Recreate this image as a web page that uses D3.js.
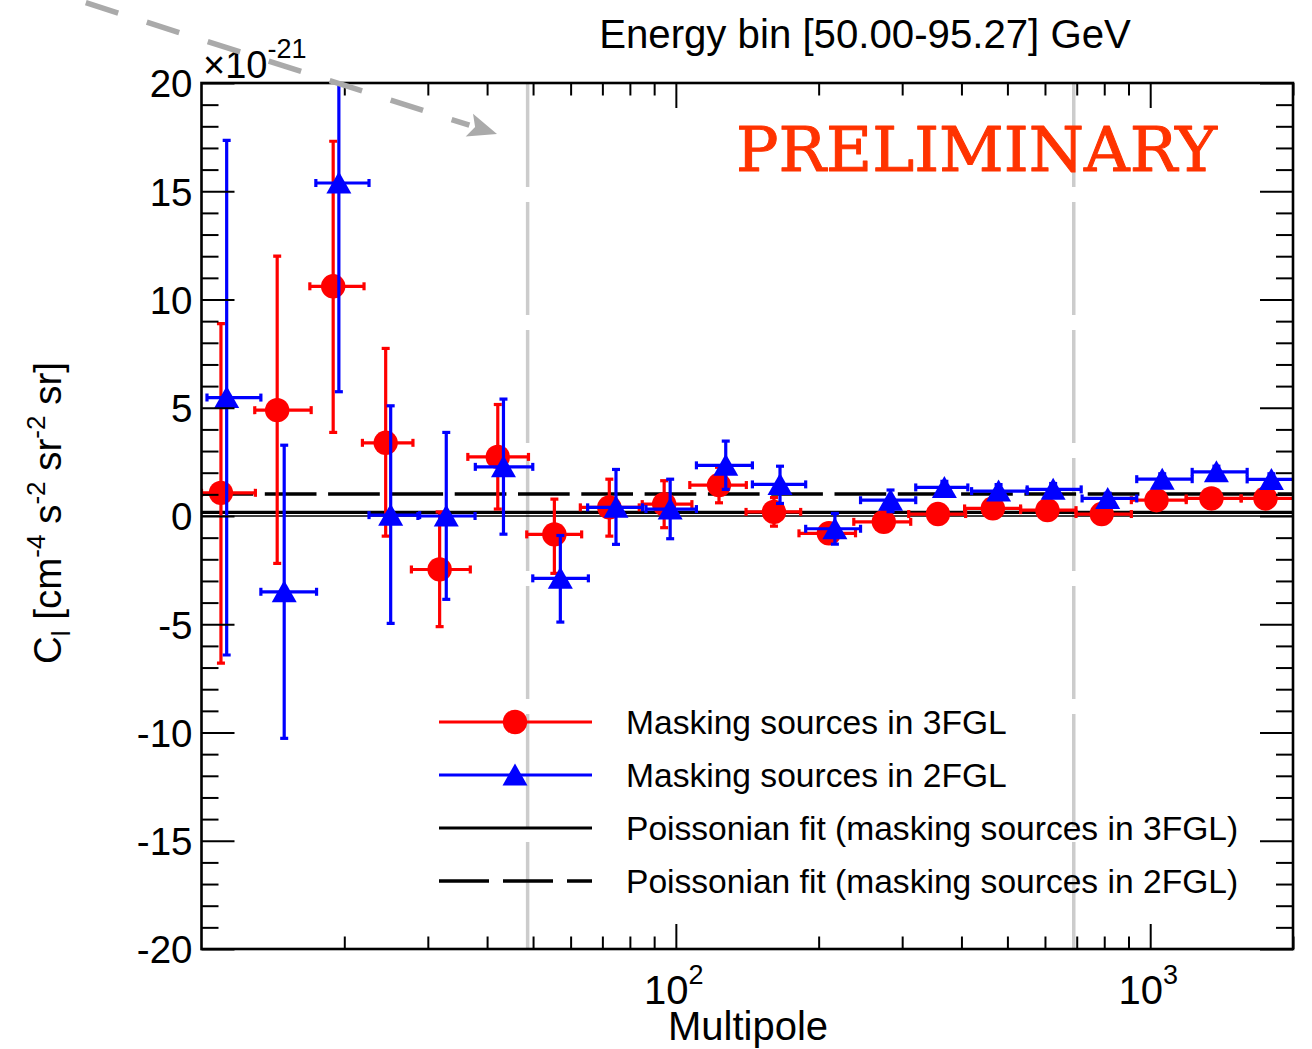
<!DOCTYPE html>
<html>
<head>
<meta charset="utf-8">
<script src="https://cdn.jsdelivr.net/npm/d3@7"></script>
<style>
  html, body { margin: 0; padding: 0; background: #fff; }
  svg { display: block; }
  text { font-family: "Liberation Sans", Arial, Helvetica, sans-serif; fill: #000; }
  text.stamp { font-family: "DejaVu Serif", "Liberation Serif", serif; font-weight: normal;
               fill: #ff3300; stroke: #ff3300; stroke-width: 1px; stroke-linejoin: round; }
</style>
</head>
<body>
<svg id="chart" width="1312" height="1049"></svg>
<script>
// Angular power spectrum, energy bin 50.00-95.27 GeV (values in units of 1e-21)

// Masking sources in 3FGL
const ell3   = [10.99, 14.44, 18.95, 24.45, 31.77, 42.13, 55.45, 72.40, 94.48, 123.3, 161.0, 210.2, 274.4, 356.9, 465.9, 607.3, 790.3, 1031, 1346, 1750];
const ellLo3 = [10.0, 12.95, 16.92, 21.84, 27.70, 36.43, 48.49, 62.9, 84.95, 107.0, 140.6, 181.8, 237.2, 309.7, 406.2, 533.0, 697.6, 912.5, 1191, 1555];
const ellHi3 = [12.99, 17.03, 22.01, 27.91, 36.87, 48.90, 63.3, 83.72, 108.1, 140.8, 183.3, 239.2, 312.7, 408.2, 533.0, 697.6, 912.5, 1191, 1555, 2030];
const cl3    = [1.07, 4.89, 10.61, 3.38, -2.47, 2.73, -0.85, 0.40, 0.55, 1.43, 0.19, -0.80, -0.27, 0.09, 0.35, 0.27, 0.09, 0.73, 0.81, 0.81];
const clLo3  = [-6.80, -2.19, 3.86, -0.93, -5.11, 0.32, -2.65, -0.93, -0.54, 0.61, -0.47, -1.25, -0.65, -0.25, 0.05, 0.00, -0.15, 0.55, 0.65, 0.65];
const clHi3  = [8.89, 12.0, 17.31, 7.74, 0.19, 5.15, 0.78, 1.70, 1.63, 2.25, 0.85, -0.35, 0.10, 0.40, 0.60, 0.50, 0.30, 0.90, 0.95, 0.95];

// Masking sources in 2FGL
const ell2   = [11.30, 14.94, 19.48, 25.05, 32.81, 43.31, 57.08, 74.78, 97.28, 127.4, 165.8, 216.4, 283.5, 368.2, 479.0, 624.3, 813.6, 1060, 1379, 1801];
const ellLo2 = [10.27, 13.34, 17.42, 22.55, 28.59, 37.78, 49.93, 65.17, 86.49, 110.5, 145.0, 187.8, 245.1, 320.4, 420.2, 550.3, 718.5, 936.7, 1226, 1601];
const ellHi2 = [13.34, 17.48, 22.55, 28.83, 37.73, 49.93, 65.4, 85.07, 110.5, 145.0, 187.8, 245.1, 320.4, 412.6, 550.3, 715.3, 936.7, 1226, 1601, 2050];
const cl2    = [5.47, -3.50, 15.38, 0.04, 0.00, 2.27, -2.88, 0.40, 0.32, 2.34, 1.46, -0.59, 0.73, 1.32, 1.15, 1.23, 0.81, 1.70, 2.04, 1.69];
const clLo2  = [-6.42, -10.27, 5.74, -4.96, -3.85, -0.84, -4.90, -1.31, -1.05, 1.23, 0.58, -1.30, 0.20, 1.00, 0.85, 0.95, 0.55, 1.45, 1.80, 1.45];
const clHi2  = [17.35, 3.27, 20.5, 5.09, 3.86, 5.40, -0.90, 2.15, 1.70, 3.46, 2.30, 0.12, 1.20, 1.60, 1.45, 1.50, 1.05, 1.95, 2.30, 1.95];

// Poissonian fits (constant C_l)
const fit3 = 0.17;
const fit2 = 1.02;

// Multipole range used in the fit
const fitRange = [48.7, 690];

const yMajorTicks = [-20, -15, -10, -5, 0, 5, 10, 15, 20];
const yMinorTicks = d3.range(-20, 21, 1).filter(v => v % 5 !== 0);
const xMajorTicks = [100, 1000];
const xMinorTicks = [20, 30, 40, 50, 60, 70, 80, 90, 200, 300, 400, 500, 600, 700, 800, 900, 2000];
const xTickLabels = [{v: 100, base: "10", exp: "2"}, {v: 1000, base: "10", exp: "3"}];

const legendItems = [
  {label: "Masking sources in 3FGL", kind: "circle"},
  {label: "Masking sources in 2FGL", kind: "triangle"},
  {label: "Poissonian fit (masking sources in 3FGL)", kind: "solid"},
  {label: "Poissonian fit (masking sources in 2FGL)", kind: "dashed"}
];

const M = {left: 201.5, right: 1293, top: 83, bottom: 949};
const RED = "#ff0000", BLUE = "#0000ff";

const svg = d3.select("#chart");
const x = d3.scaleLog().domain([10, 2000]).range([M.left, M.right]);
const y = d3.scaleLinear().domain([-20, 20]).range([M.bottom, M.top]);

svg.append("defs").append("clipPath").attr("id", "plotClip")
  .append("rect").attr("x", M.left).attr("y", M.top)
  .attr("width", M.right - M.left).attr("height", M.bottom - M.top);

const plot = svg.append("g").attr("clip-path", "url(#plotClip)");

// fit-range markers
plot.selectAll("line.range").data(fitRange).join("line")
  .attr("class", "range")
  .attr("x1", d => x(d)).attr("x2", d => x(d))
  .attr("y1", M.top).attr("y2", M.bottom)
  .attr("stroke", "#cccccc").attr("stroke-width", 3.5)
  .attr("stroke-dasharray", "113,15").attr("stroke-dashoffset", 9);

// zero line and fits
plot.append("line").attr("x1", M.left).attr("x2", M.right)
  .attr("y1", y(0)).attr("y2", y(0)).attr("stroke", "#000").attr("stroke-width", 1.5);
plot.append("line").attr("x1", M.left).attr("x2", M.right)
  .attr("y1", y(fit3)).attr("y2", y(fit3)).attr("stroke", "#000").attr("stroke-width", 3.2);
plot.append("line").attr("x1", M.left).attr("x2", M.right)
  .attr("y1", y(fit2)).attr("y2", y(fit2)).attr("stroke", "#000").attr("stroke-width", 3.5)
  .attr("stroke-dasharray", "51.7,11.6");

const TRI = "M0,-11.5L12.5,10.5L-12.5,10.5Z";

function drawSeries(ell, lo, hi, cl, clLo, clHi, color, kind) {
  const data = ell.map((e, i) => ({e, lo: lo[i], hi: hi[i], c: cl[i], cLo: clLo[i], cHi: clHi[i]}));
  const g = plot.append("g");
  const cap = 4;
  const sw = 3.2;
  data.forEach(d => {
    const px = x(d.e), py = y(d.c);
    const gx = g.append("g").attr("stroke", color).attr("stroke-width", sw);
    // vertical error bar
    gx.append("line").attr("x1", px).attr("x2", px).attr("y1", y(d.cLo)).attr("y2", y(d.cHi));
    gx.append("line").attr("x1", px - cap).attr("x2", px + cap).attr("y1", y(d.cLo)).attr("y2", y(d.cLo));
    gx.append("line").attr("x1", px - cap).attr("x2", px + cap).attr("y1", y(d.cHi)).attr("y2", y(d.cHi));
    // horizontal (bin width) bar
    gx.append("line").attr("x1", x(d.lo)).attr("x2", x(d.hi)).attr("y1", py).attr("y2", py);
    gx.append("line").attr("x1", x(d.lo)).attr("x2", x(d.lo)).attr("y1", py - cap).attr("y2", py + cap);
    gx.append("line").attr("x1", x(d.hi)).attr("x2", x(d.hi)).attr("y1", py - cap).attr("y2", py + cap);
  });
  data.forEach(d => {
    const px = x(d.e), py = y(d.c);
    if (kind === "circle") {
      g.append("circle").attr("cx", px).attr("cy", py).attr("r", 12.2).attr("fill", color);
    } else {
      g.append("path").attr("d", TRI).attr("transform", `translate(${px},${py})`).attr("fill", color);
    }
  });
}

drawSeries(ell3, ellLo3, ellHi3, cl3, clLo3, clHi3, RED, "circle");
drawSeries(ell2, ellLo2, ellHi2, cl2, clLo2, clHi2, BLUE, "triangle");

// axes with inward ticks on all four sides
function styleAxis(g) {
  g.select(".domain").remove();
  g.selectAll(".tick line").attr("stroke", "#000").attr("stroke-width", 2);
}
const noLabel = () => "";
svg.append("g").attr("transform", `translate(0,${M.bottom})`)
  .call(d3.axisBottom(x).tickValues(xMajorTicks).tickSize(-25).tickFormat(noLabel)).call(styleAxis);
svg.append("g").attr("transform", `translate(0,${M.bottom})`)
  .call(d3.axisBottom(x).tickValues(xMinorTicks).tickSize(-12.5).tickFormat(noLabel)).call(styleAxis);
svg.append("g").attr("transform", `translate(0,${M.top})`)
  .call(d3.axisTop(x).tickValues(xMajorTicks).tickSize(-25).tickFormat(noLabel)).call(styleAxis);
svg.append("g").attr("transform", `translate(0,${M.top})`)
  .call(d3.axisTop(x).tickValues(xMinorTicks).tickSize(-12.5).tickFormat(noLabel)).call(styleAxis);

const yAxisL = svg.append("g").attr("transform", `translate(${M.left},0)`)
  .call(d3.axisLeft(y).tickValues(yMajorTicks).tickSize(-33).tickPadding(9).tickFormat(d3.format("d")));
yAxisL.call(styleAxis);
yAxisL.selectAll(".tick text").attr("font-size", 38.5).attr("font-family", null)
  .attr("fill", "#000").attr("dy", "0.36em").text(d => d < 0 ? "-" + Math.abs(d) : d);
svg.append("g").attr("transform", `translate(${M.left},0)`)
  .call(d3.axisLeft(y).tickValues(yMinorTicks).tickSize(-17).tickFormat(noLabel)).call(styleAxis);
svg.append("g").attr("transform", `translate(${M.right},0)`)
  .call(d3.axisRight(y).tickValues(yMajorTicks).tickSize(-33).tickFormat(noLabel)).call(styleAxis);
svg.append("g").attr("transform", `translate(${M.right},0)`)
  .call(d3.axisRight(y).tickValues(yMinorTicks).tickSize(-17).tickFormat(noLabel)).call(styleAxis);

// frame
svg.append("rect").attr("x", M.left).attr("y", M.top)
  .attr("width", M.right - M.left).attr("height", M.bottom - M.top)
  .attr("fill", "none").attr("stroke", "#000").attr("stroke-width", 2.6);

// x tick labels (powers of ten)
xTickLabels.forEach(t => {
  const tx = svg.append("text").attr("x", x(t.v) - 2).attr("y", 1004)
    .attr("text-anchor", "middle").attr("font-size", 40);
  tx.append("tspan").text(t.base);
  tx.append("tspan").attr("font-size", 27).attr("dy", -20).text(t.exp);
});

// axis titles
svg.append("text").attr("x", 748).attr("y", 1040).attr("text-anchor", "middle")
  .attr("font-size", 40).text("Multipole");

const yt = svg.append("text").attr("transform", "translate(61,513) rotate(-90)")
  .attr("text-anchor", "middle").attr("font-size", 38.5);
yt.append("tspan").text("C");
yt.append("tspan").attr("font-size", 26).attr("dy", 9).text("l");
yt.append("tspan").attr("dy", -9).text(" [cm");
yt.append("tspan").attr("font-size", 26).attr("dy", -16).text("-4");
yt.append("tspan").attr("dy", 16).text(" s");
yt.append("tspan").attr("font-size", 26).attr("dy", -16).text("-2");
yt.append("tspan").attr("dy", 16).text(" sr");
yt.append("tspan").attr("font-size", 26).attr("dy", -16).text("-2");
yt.append("tspan").attr("dy", 16).text(" sr]");

// exponent of the y axis
const ex = svg.append("text").attr("x", 203).attr("y", 78).attr("font-size", 38);
ex.append("tspan").text("\u00d710");
ex.append("tspan").attr("font-size", 27).attr("dy", -20).text("-21");

// title
svg.append("text").attr("x", 865).attr("y", 48).attr("text-anchor", "middle")
  .attr("font-size", 40.2).text("Energy bin [50.00-95.27] GeV");

// preliminary stamp
svg.append("text").attr("class", "stamp").attr("x", 736).attr("y", 171)
  .attr("font-size", 62)
  .attr("textLength", 481).attr("lengthAdjust", "spacingAndGlyphs")
  .text("PRELIMINARY");

// legend
const legX0 = 439, legX1 = 592, legMark = 515, legText = 626;
const legY = d3.scaleBand().domain(legendItems.map(d => d.label)).range([695.5, 907.5]);
const leg = svg.append("g");
legendItems.forEach(it => {
  const ly = legY(it.label) + legY.bandwidth() / 2;
  const line = leg.append("line").attr("x1", legX0).attr("x2", legX1).attr("y1", ly).attr("y2", ly)
    .attr("stroke-width", 3.2);
  if (it.kind === "circle") {
    line.attr("stroke", RED);
    leg.append("circle").attr("cx", legMark).attr("cy", ly).attr("r", 12.2).attr("fill", RED);
  } else if (it.kind === "triangle") {
    line.attr("stroke", BLUE);
    leg.append("path").attr("d", TRI).attr("transform", `translate(${legMark},${ly})`).attr("fill", BLUE);
  } else if (it.kind === "solid") {
    line.attr("stroke", "#000");
  } else {
    line.attr("stroke", "#000").attr("stroke-width", 3.5).attr("stroke-dasharray", "50,14");
  }
  leg.append("text").attr("x", legText).attr("y", ly).attr("dy", "0.36em")
    .attr("font-size", 33.6).text(it.label);
});

// pointer arrow
const a0 = [82, 1.5], a1 = [497, 134];
const ang = Math.atan2(a1[1] - a0[1], a1[0] - a0[0]);
const headLen = 29, headHalf = 12;
const base = [a1[0] - headLen * Math.cos(ang), a1[1] - headLen * Math.sin(ang)];
svg.append("line").attr("x1", a0[0]).attr("y1", a0[1]).attr("x2", base[0]).attr("y2", base[1])
  .attr("stroke", "#aaaaaa").attr("stroke-width", 5.5).attr("stroke-dasharray", "34,30").attr("stroke-dashoffset", -4);
svg.append("path")
  .attr("d", `M${a1[0]},${a1[1]}L${base[0] + headHalf * Math.sin(ang)},${base[1] - headHalf * Math.cos(ang)}L${base[0] + 6 * Math.cos(ang)},${base[1] + 6 * Math.sin(ang)}L${base[0] - headHalf * Math.sin(ang)},${base[1] + headHalf * Math.cos(ang)}Z`)
  .attr("fill", "#aaaaaa");
</script>
</body>
</html>
